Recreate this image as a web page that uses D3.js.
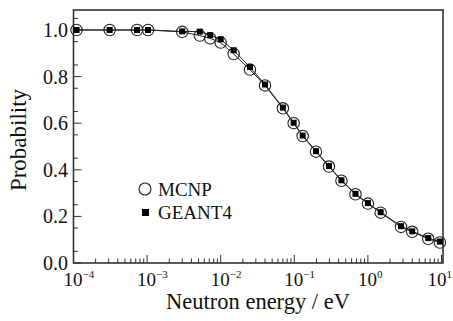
<!DOCTYPE html>
<html>
<head>
<meta charset="utf-8">
<script src="https://cdn.jsdelivr.net/npm/d3@7"></script>
<style>
  body { margin: 0; background: #fff; }
  svg { display: block; }
  text { font-family: "Liberation Serif", "Times New Roman", serif; fill: #111; }
</style>
</head>
<body>
<svg id="chart" width="453" height="321"></svg>
<script>
// ---- data ----
const energies = [1.1e-4, 3.1e-4, 7.3e-4, 1.03e-3, 3.0e-3, 5.2e-3, 7.2e-3, 1.0e-2, 1.5e-2, 2.5e-2,
                  4.0e-2, 7.0e-2, 9.8e-2, 0.13, 0.197, 0.296, 0.437, 0.678, 1.0, 1.49, 2.82, 4.0, 6.6, 9.5];
const mcnp   = [1.0, 1.0, 1.0, 1.0, 0.992, 0.976, 0.964, 0.946, 0.897, 0.830,
                0.762, 0.664, 0.600, 0.545, 0.478, 0.414, 0.353, 0.295, 0.255, 0.216, 0.155, 0.134, 0.104, 0.088];
const geant4 = [1.0, 1.0, 1.0, 1.0, 0.994, 0.993, 0.978, 0.960, 0.913, 0.841,
                0.766, 0.667, 0.602, 0.547, 0.480, 0.416, 0.355, 0.297, 0.257, 0.218, 0.158, 0.136, 0.107, 0.092];
const xTickValues = [1e-4, 1e-3, 1e-2, 1e-1, 1e0, 1e1];
const xTickExps = ["-4", "-3", "-2", "-1", "0", "1"];
const yTickValues = [0.0, 0.2, 0.4, 0.6, 0.8, 1.0];
const yTickLabels = ["0.0", "0.2", "0.4", "0.6", "0.8", "1.0"];
const seriesNames = ["MCNP", "GEANT4"];

// ---- layout ----
const svg = d3.select("#chart");
const L = 73.5, R = 443, T = 10, B = 263;
const x = d3.scaleLog().domain([1e-4, 1e1]).range([L, 441.5]);
const y = d3.scaleLinear().domain([0, 1]).range([B, 30]);

const axisColor = "#333";

// minor x ticks
const minorX = [];
for (let e = -4; e < 1; e++) for (let k = 2; k <= 9; k++) minorX.push(k * Math.pow(10, e));
svg.append("g").selectAll("line").data(minorX).join("line")
  .attr("x1", d => x(d)).attr("x2", d => x(d))
  .attr("y1", B).attr("y2", B - 4.5)
  .attr("stroke", axisColor).attr("stroke-width", 1);
svg.append("g").selectAll("line").data(xTickValues).join("line")
  .attr("x1", d => x(d)).attr("x2", d => x(d))
  .attr("y1", B).attr("y2", B - 8)
  .attr("stroke", axisColor).attr("stroke-width", 1);

// y ticks
const minorY = d3.range(0.05, 1.06, 0.1);
svg.append("g").selectAll("line").data(minorY).join("line")
  .attr("x1", L).attr("x2", L + 4.5)
  .attr("y1", d => y(d)).attr("y2", d => y(d))
  .attr("stroke", axisColor).attr("stroke-width", 1);
svg.append("g").selectAll("line").data(yTickValues).join("line")
  .attr("x1", L).attr("x2", L + 8)
  .attr("y1", d => y(d)).attr("y2", d => y(d))
  .attr("stroke", axisColor).attr("stroke-width", 1);

// frame
svg.append("rect").attr("x", L).attr("y", T).attr("width", R - L).attr("height", B - T)
  .attr("fill", "none").attr("stroke", axisColor).attr("stroke-width", 1.6);

// y tick labels
svg.append("g").selectAll("text").data(yTickValues).join("text")
  .attr("x", 68).attr("y", d => y(d) + 7)
  .attr("text-anchor", "end").attr("font-size", 20)
  .text((d, i) => yTickLabels[i]);

// x tick labels
const xl = svg.append("g").selectAll("text").data(xTickValues).join("text")
  .attr("x", d => x(d) - 10).attr("y", 286)
  .attr("text-anchor", "start").attr("font-size", 19);
xl.append("tspan").text("10");
xl.append("tspan").attr("dy", -8).attr("font-size", 11).text((d, i) => xTickExps[i].replace("-", "\u2212"));
xl.each(function() {
  const bb = this.getBBox();
  if (bb.x + bb.width > 452) d3.select(this).attr("x", 452 - bb.width);
});

// axis titles
svg.append("text").attr("x", 258).attr("y", 309).attr("text-anchor", "middle")
  .attr("font-size", 22.5).text("Neutron energy / eV");
svg.append("text").attr("transform", "translate(26,140) rotate(-90)")
  .attr("text-anchor", "middle").attr("font-size", 23).text("Probability");

// lines
const line = d3.line().x(d => x(d[0])).y(d => y(d[1]));
const mData = energies.map((e, i) => [e, mcnp[i]]);
const gData = energies.map((e, i) => [e, geant4[i]]);
svg.append("path").datum(mData).attr("d", line).attr("fill", "none").attr("stroke", "#222").attr("stroke-width", 1);
svg.append("path").datum(gData).attr("d", line).attr("fill", "none").attr("stroke", "#222").attr("stroke-width", 1);

// markers
svg.append("g").selectAll("circle").data(mData).join("circle")
  .attr("cx", d => x(d[0])).attr("cy", d => y(d[1])).attr("r", 5.7)
  .attr("fill", "none").attr("stroke", "#222").attr("stroke-width", 1.1);
svg.append("g").selectAll("rect").data(gData).join("rect")
  .attr("x", d => x(d[0]) - 3).attr("y", d => y(d[1]) - 3)
  .attr("width", 6).attr("height", 6).attr("fill", "#000");

// legend
svg.append("circle").attr("cx", 145).attr("cy", 189).attr("r", 6)
  .attr("fill", "none").attr("stroke", "#222").attr("stroke-width", 1.1);
svg.append("rect").attr("x", 142).attr("y", 209).attr("width", 7).attr("height", 7).attr("fill", "#000");
svg.append("text").attr("x", 158).attr("y", 196).attr("font-size", 19).text(seriesNames[0]);
svg.append("text").attr("x", 158).attr("y", 219).attr("font-size", 19).text(seriesNames[1]);
</script>
</body>
</html>
